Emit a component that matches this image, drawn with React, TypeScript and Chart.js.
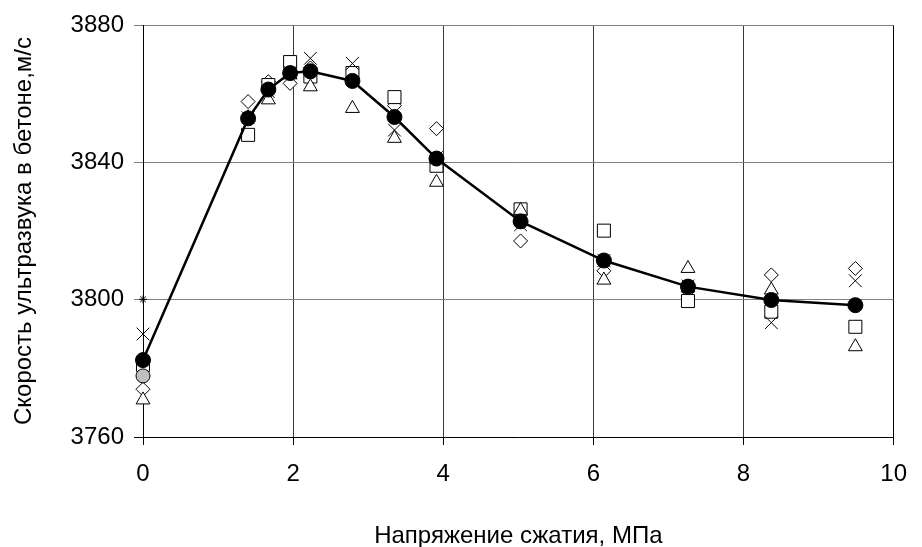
import React, { useEffect, useRef } from 'react';
import { Chart, registerables } from 'chart.js';

Chart.register(...registerables);

const FONT = "'Liberation Sans', Arial, sans-serif";

// Compressive stress, MPa
const stress = [0, 1.4, 1.67, 1.96, 2.23, 2.79, 3.35, 3.91, 5.03, 6.14, 7.26, 8.37, 9.49];

// Averaged ultrasonic velocity, m/s
const meanVelocity = [3782.4, 3852.8, 3861.2, 3866.0, 3866.5, 3863.7, 3853.2, 3841.1, 3822.8, 3811.4, 3803.8, 3799.9, 3798.4];

// Individual specimens, m/s
const specimenSquare = [3781.0, 3848.0, 3862.5, 3869.2, 3865.0, 3866.0, 3859.0, 3839.0, 3826.3, 3820.1, 3799.6, 3796.5, 3792.1];
const specimenDiamond = [3773.9, 3857.7, 3863.5, 3863.0, 3867.5, 3864.5, 3856.5, 3849.8, 3817.1, 3808.4, 3802.5, 3807.2, 3809.1];
const specimenTriangle = [3770.8, 3853.0, 3858.2, 3865.5, 3862.0, 3855.7, 3847.0, 3834.2, 3826.0, 3805.7, 3809.1, 3802.8, 3786.3];
const specimenCross = [3790.0, 3853.0, 3860.6, 3866.2, 3870.3, 3868.8, 3849.4, 3841.4, 3821.8, 3811.4, 3804.0, 3793.3, 3805.5];
const specimenGreyStress = [0];
const specimenGrey = [3777.8];
const specimenStarStress = [0];
const specimenStar = [3800.1];

const xTicks = [0, 2, 4, 6, 8, 10];
const yTicks = [3760, 3800, 3840, 3880];

const xTitle = 'Напряжение сжатия, МПа';
const yTitle = 'Скорость ультразвука в бетоне,м/с';

const toPoints = (xs: number[], ys: number[]) => ys.map((y, i) => ({ x: xs[i], y }));

export default function App() {
  const canvasRef = useRef<HTMLCanvasElement>(null);

  useEffect(() => {
    const canvas = canvasRef.current;
    if (!canvas) return;

    const openMarker = {
      backgroundColor: '#ffffff',
      borderColor: '#000000',
      pointBorderWidth: 1,
      showLine: false,
      clip: false as const,
    };

    const chart = new Chart(canvas, {
      type: 'scatter',
      data: {
        datasets: [
          {
            label: 'mean',
            data: toPoints(stress, meanVelocity),
            showLine: true,
            borderColor: '#000000',
            borderWidth: 2.5,
            backgroundColor: '#000000',
            pointStyle: 'circle',
            pointRadius: 7.5,
            pointBorderWidth: 1,
            tension: 0,
            clip: false,
            order: 0,
          },
          {
            label: 'star',
            data: toPoints(specimenStarStress, specimenStar),
            ...openMarker,
            pointStyle: 'star',
            pointRadius: 4,
            order: 1,
          },
          {
            label: 'grey',
            data: toPoints(specimenGreyStress, specimenGrey),
            ...openMarker,
            backgroundColor: '#c0c0c0',
            pointStyle: 'circle',
            pointRadius: 7,
            order: 2,
          },
          {
            label: 'cross',
            data: toPoints(stress, specimenCross),
            ...openMarker,
            pointStyle: 'crossRot',
            pointRadius: 9,
            order: 3,
          },
          {
            label: 'triangle',
            data: toPoints(stress, specimenTriangle),
            ...openMarker,
            pointStyle: 'triangle',
            pointRadius: 8,
            order: 4,
          },
          {
            label: 'square',
            data: toPoints(stress, specimenSquare),
            ...openMarker,
            pointStyle: 'rect',
            pointRadius: 9.2,
            order: 5,
          },
          {
            label: 'diamond',
            data: toPoints(stress, specimenDiamond),
            ...openMarker,
            pointStyle: 'rectRot',
            pointRadius: 7,
            order: 6,
          },
        ],
      },
      options: {
        animation: false,
        responsive: false,
        devicePixelRatio: 1,
        layout: { padding: { top: 25, right: 14, left: 0, bottom: 0 } },
        plugins: {
          legend: { display: false },
          tooltip: { enabled: false },
        },
        scales: {
          x: {
            type: 'linear',
            min: xTicks[0],
            max: xTicks[xTicks.length - 1],
            afterBuildTicks: (scale: any) => {
              scale.ticks = xTicks.map((v) => ({ value: v }));
            },
            afterFit: (scale: any) => {
              scale.height = 110;
            },
            ticks: {
              color: '#000000',
              font: { family: FONT, size: 24 },
              padding: 15,
              maxRotation: 0,
              callback: (v: any) => String(v),
            },
            grid: {
              color: (ctx: any) => (ctx.tick && ctx.tick.value === 10 ? '#000000' : '#3a3a3a'),
              tickColor: '#000000',
              lineWidth: 1,
              tickLength: 8,
            },
            border: { display: true, color: '#000000', width: 1 },
            title: {
              display: true,
              text: xTitle,
              color: '#000000',
              font: { family: FONT, size: 24 },
              padding: { top: 0, bottom: -4 },
            },
          },
          y: {
            type: 'linear',
            min: yTicks[0],
            max: yTicks[yTicks.length - 1],
            afterBuildTicks: (scale: any) => {
              scale.ticks = yTicks.map((v) => ({ value: v }));
            },
            afterFit: (scale: any) => {
              scale.width = 143;
            },
            ticks: {
              color: '#000000',
              font: { family: FONT, size: 24 },
              padding: 10,
              callback: (v: any) => String(v),
            },
            grid: {
              color: '#808080',
              tickColor: (ctx: any) => (ctx.tick && ctx.tick.value === 3760 ? '#000000' : '#808080'),
              lineWidth: 1,
              tickLength: 9,
            },
            border: { display: true, color: '#000000', width: 1 },
            title: {
              display: true,
              text: yTitle,
              color: '#000000',
              font: { family: FONT, size: 24 },
              padding: { top: 10, bottom: 0 },
            },
          },
        },
      },
    });

    return () => chart.destroy();
  }, []);

  return (
    <div style={{ position: 'absolute', left: 0, top: 0, width: 922, height: 547, background: '#ffffff' }}>
      <canvas ref={canvasRef} width={922} height={547} style={{ display: 'block' }} />
    </div>
  );
}
